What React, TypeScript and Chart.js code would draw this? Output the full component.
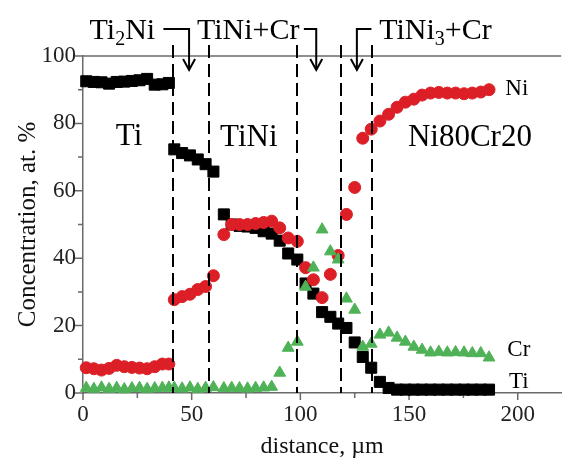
import React, { useEffect, useRef } from 'react';
import { Chart, registerables } from 'chart.js';

Chart.register(...registerables);

// ---- data ----
const distance = [
  1.5, 5, 8.5, 12, 15.5, 19, 22.5, 26, 29.5, 33, 36.5, 39.5,
  42, 45.6, 49.2, 52.8, 56.4, 60,
  64.8, 68.4, 72, 75.7, 79.4, 83.1, 86.8, 90.5, 94.4,
  98.6, 102.4, 106, 110, 113.8, 117.4, 121.2, 125, 128.7, 132.6, 136.6,
  140.6, 144.5, 148.3, 152.2, 156, 159.9, 163.7, 167.6, 171.4, 175.3, 179.1, 183, 186.8,
];

const tiValues = [
  92.5, 92.3, 92.2, 91.8, 92.3, 92.4, 92.6, 92.8, 93.2, 91.5, 91.6, 92.0,
  72.3, 71.2, 70.5, 69.3, 67.9, 65.7,
  53, 50, 49.6, 49.4, 49, 48, 47.3, 45.2, 41.4,
  39.6, 32.5, 29.5, 24, 22.6, 20.6, 19.3, 15, 10.7, 7.5, 3.3,
  1.5, 1.0, 1.0, 1.0, 1.0, 1.0, 1.0, 1.0, 1.0, 1.0, 1.0, 1.0, 1.0,
];

const niValues = [
  7.5, 7.2, 6.8, 7.3, 8.2, 7.8, 7.6, 7.4, 7.2, 7.8, 8.6, 8.6,
  27.7, 28.6, 29.3, 30.7, 31.6, 34.8,
  47, 50, 50, 50, 50.3, 50.6, 51, 49, 46,
  45, 37.2, 33.6, 28.3, 35.2, 40.8, 53, 61, 75.6, 78.3, 80.7,
  82.7, 84.8, 86.3, 87.2, 88.4, 89, 89.2, 89, 89, 88.8, 89, 89.3, 90,
];

const crValues = [
  1.5, 1.2, 1.6, 1.2, 1.5, 1.1, 1.4, 1.5, 1.2, 1.4, 1.5, 1.6,
  1.5, 1.3, 1.6, 1.2, 1.5, 1.7,
  1.4, 1.5, 1.4, 1.3, 1.5, 1.6, 1.8, 6.0, 13.4,
  15.2, 31.5, 37.2, 48.5, 42, 39.6, 28, 24.7, 13.7, 14.6, 17.3,
  17.9, 16.4, 15.2, 13.7, 12.8, 12, 12.2, 12, 12.1, 12, 11.8, 11.8, 10.5,
];

const xTicks = [0, 50, 100, 150, 200];
const xMinorTicks = [25, 75, 125, 175];
const yTicks = [0, 20, 40, 60, 80, 100];
const yMinorTicks = [10, 30, 50, 70, 90];
const phaseBoundaries = [41.5, 58, 98.5, 118.5, 133];

const SERIF = '"Liberation Serif", "Times New Roman", serif';
const AXIS = '#6a6a6a';
const RED = '#dc1f26';
const GREEN = '#4fb257';
const BLACK = '#000000';

type Part = { t: string; sub?: boolean };

function drawRich(ctx: CanvasRenderingContext2D, parts: Part[], x: number, y: number, size: number) {
  let cx = x;
  for (const p of parts) {
    const s = p.sub ? Math.round(size * 0.66) : size;
    ctx.font = `${s}px ${SERIF}`;
    ctx.fillText(p.t, cx, p.sub ? y + size * 0.2 : y);
    cx += ctx.measureText(p.t).width;
  }
}

export default function App() {
  const ref = useRef<HTMLCanvasElement>(null);

  useEffect(() => {
    const canvas = ref.current;
    if (!canvas) return;
    const toPts = (vals: number[]) => distance.map((x, i) => ({ x, y: vals[i] }));

    const annot = {
      id: 'annot',
      beforeDatasetsDraw(chart: any) {
        const { ctx, chartArea: a, scales } = chart;
        const xs = scales.x;
        const ys = scales.y;
        ctx.save();
        ctx.strokeStyle = AXIS;
        ctx.lineWidth = 1.5;
        ctx.beginPath();
        ctx.moveTo(a.left, a.top);
        ctx.lineTo(a.right, a.top);
        ctx.stroke();
        ctx.beginPath();
        for (const v of yTicks) {
          const py = ys.getPixelForValue(v);
          ctx.moveTo(a.left - 8, py);
          ctx.lineTo(a.left, py);
        }
        for (const v of yMinorTicks) {
          const py = ys.getPixelForValue(v);
          ctx.moveTo(a.left - 5, py);
          ctx.lineTo(a.left, py);
        }
        for (const v of xTicks) {
          const px = xs.getPixelForValue(v);
          ctx.moveTo(px, a.bottom);
          ctx.lineTo(px, a.bottom + 7);
        }
        for (const v of xMinorTicks) {
          const px = xs.getPixelForValue(v);
          ctx.moveTo(px, a.bottom);
          ctx.lineTo(px, a.bottom + 5);
        }
        ctx.stroke();
        ctx.restore();
      },
      afterDatasetsDraw(chart: any) {
        const { ctx, chartArea: a, scales } = chart;
        const xs = scales.x;
        const ys = scales.y;
        ctx.save();
        // phase boundaries
        ctx.strokeStyle = '#000';
        ctx.lineWidth = 2;
        ctx.setLineDash([13, 6]);
        for (const b of phaseBoundaries) {
          const px = Math.round(xs.getPixelForValue(b));
          ctx.beginPath();
          ctx.moveTo(px, a.top - 11);
          ctx.lineTo(px, a.bottom);
          ctx.stroke();
        }
        ctx.setLineDash([]);

        // arrows
        const yH = a.top - 27;
        const yTip = a.top + 14;
        const arrow = (fromX: number, toX: number) => {
          const x0 = xs.getPixelForValue(fromX);
          const x1 = xs.getPixelForValue(toX);
          ctx.beginPath();
          ctx.moveTo(x0, yH);
          ctx.lineTo(x1, yH);
          ctx.lineTo(x1, yTip);
          ctx.stroke();
          ctx.beginPath();
          ctx.moveTo(x1 - 6, yTip - 11);
          ctx.lineTo(x1, yTip);
          ctx.lineTo(x1 + 6, yTip - 11);
          ctx.stroke();
        };
        arrow(37, 48.8);
        arrow(101.6, 107.3);
        arrow(132.7, 126);

        // top phase labels
        ctx.fillStyle = '#000';
        ctx.textAlign = 'left';
        ctx.textBaseline = 'alphabetic';
        const yb = a.top - 17;
        drawRich(ctx, [{ t: 'Ti' }, { t: '2', sub: true }, { t: 'Ni' }], xs.getPixelForValue(3.0), yb, 30);
        drawRich(ctx, [{ t: 'TiNi+Cr' }], xs.getPixelForValue(52.4), yb, 30);
        drawRich(ctx, [{ t: 'TiNi' }, { t: '3', sub: true }, { t: '+Cr' }], xs.getPixelForValue(136.3), yb, 30);

        // region labels
        ctx.textAlign = 'center';
        ctx.font = `31px ${SERIF}`;
        ctx.fillText('Ti', xs.getPixelForValue(21.2), ys.getPixelForValue(73.5));
        ctx.fillText('TiNi', xs.getPixelForValue(76.3), ys.getPixelForValue(73.3));
        ctx.fillText('Ni80Cr20', xs.getPixelForValue(178), ys.getPixelForValue(73.3));

        // series labels
        ctx.textAlign = 'left';
        ctx.textBaseline = 'middle';
        ctx.font = `23px ${SERIF}`;
        ctx.fillText('Ni', xs.getPixelForValue(194.3), ys.getPixelForValue(90.2));
        ctx.fillText('Cr', xs.getPixelForValue(195.2), ys.getPixelForValue(12.8));
        ctx.fillText('Ti', xs.getPixelForValue(196), ys.getPixelForValue(3.3));
        ctx.restore();
      },
    };

    const chart = new Chart(canvas, {
      type: 'scatter',
      data: {
        datasets: [
          {
            label: 'Cr',
            data: toPts(crValues),
            pointStyle: 'triangle',
            pointRadius: 6.8,
            pointBackgroundColor: GREEN,
            pointBorderColor: GREEN,
            pointBorderWidth: 1,
            showLine: false,
            clip: false,
          },
          {
            label: 'Ni',
            data: toPts(niValues),
            pointStyle: 'circle',
            pointRadius: 6,
            pointBackgroundColor: RED,
            pointBorderColor: RED,
            pointBorderWidth: 1,
            showLine: false,
            clip: false,
          },
          {
            label: 'Ti',
            data: toPts(tiValues),
            pointStyle: 'rect',
            pointRadius: 7.8,
            pointBackgroundColor: BLACK,
            pointBorderColor: BLACK,
            pointBorderWidth: 1,
            showLine: false,
            clip: false,
          },
        ] as any,
      },
      options: {
        animation: false,
        responsive: false,
        events: [],
        layout: { padding: { top: 56, left: 0, right: 0, bottom: 0 } },
        plugins: { legend: { display: false }, tooltip: { enabled: false } },
        scales: {
          x: {
            type: 'linear',
            min: 0,
            max: 220,
            afterBuildTicks: (s: any) => {
              s.ticks = xTicks.map((v) => ({ value: v }));
            },
            afterFit: (s: any) => {
              s.height = 68;
            },
            grid: { display: false, drawTicks: false },
            border: { display: true, color: AXIS, width: 1.5 },
            ticks: { font: { family: SERIF, size: 23 }, color: '#222', padding: 8, maxRotation: 0 },
            title: {
              display: true,
              text: 'distance, µm',
              font: { family: SERIF, size: 24 },
              color: '#111',
              padding: { top: 0, bottom: 0 },
            },
          },
          y: {
            type: 'linear',
            min: 0,
            max: 100,
            afterBuildTicks: (s: any) => {
              s.ticks = yTicks.map((v) => ({ value: v }));
            },
            afterFit: (s: any) => {
              s.width = 83;
            },
            grid: { display: false, drawTicks: false },
            border: { display: true, color: AXIS, width: 1.5 },
            ticks: { font: { family: SERIF, size: 23 }, color: '#222', padding: 7 },
            title: {
              display: true,
              text: 'Concentration, at. %',
              font: { family: SERIF, size: 25 },
              color: '#111',
              padding: { top: 13, bottom: 0 },
            },
          },
        },
      } as any,
      plugins: [annot],
    });
    return () => chart.destroy();
  }, []);

  return (
    <div style={{ position: 'absolute', left: 0, top: 0, width: 570, height: 461, background: '#fff' }}>
      <canvas ref={ref} width={570} height={461} style={{ display: 'block' }} />
    </div>
  );
}
